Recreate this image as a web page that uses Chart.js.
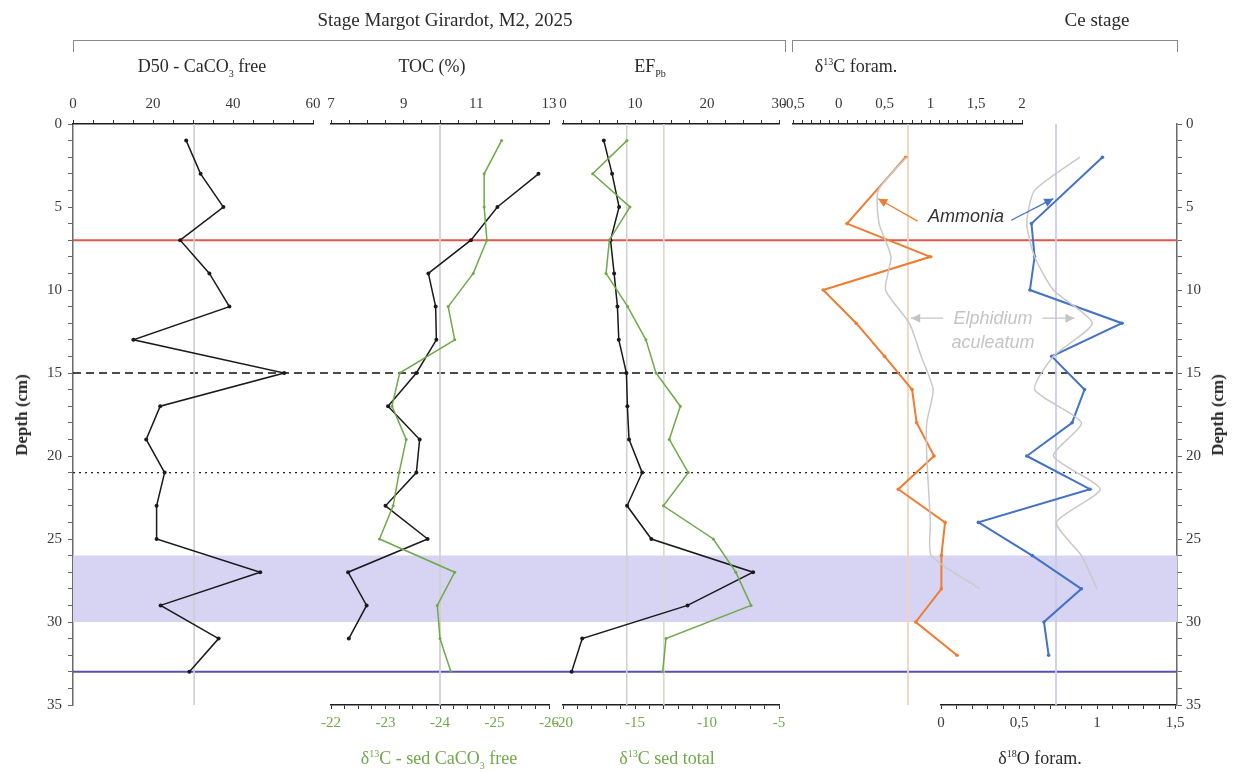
<!DOCTYPE html>
<html>
<head>
<meta charset="utf-8">
<script src="https://cdn.jsdelivr.net/npm/chart.js@4.4.1/dist/chart.umd.min.js"></script>
<style>
  body { margin: 0; background: #fff; }
  #fig { position: relative; width: 1235px; height: 773px; overflow: hidden;
         font-family: "Liberation Serif", "Times New Roman", serif; color: #2a2a2a; }
  #fig canvas { position: absolute; left: 0; top: 0; }
  .t { position: absolute; white-space: nowrap; transform: translate(-50%, -50%); font-size: 18px; line-height: 1; }
  .h { font-size: 19px; }
  .t sub, .t sup { font-size: 10px; line-height: 0; }
  .green { color: #6fa94a; }
  .br { position: absolute; top: 40px; height: 12px; border: 1.5px solid #8a8a8a; border-bottom: none; box-sizing: border-box; }
  .depth { position: absolute; font-weight: bold; font-size: 17px; white-space: nowrap;
           transform: translate(-50%, -50%) rotate(-90deg); }
  .ann { position: absolute; white-space: nowrap; transform: translate(-50%, -50%);
         font-family: "Liberation Sans", Arial, sans-serif; font-style: italic; font-size: 18px; line-height: 1; }
</style>
</head>
<body>
<div id="fig">
  <canvas id="cBase" width="1235" height="773"></canvas>
  <canvas id="cD50" width="1235" height="773"></canvas>
  <canvas id="cTOC" width="1235" height="773"></canvas>
  <canvas id="cEF" width="1235" height="773"></canvas>
  <canvas id="cC13" width="1235" height="773"></canvas>
  <canvas id="cO18" width="1235" height="773"></canvas>

  <div class="t h" style="left:445px;top:19px;">Stage Margot Girardot, M2, 2025</div>
  <div class="t h" style="left:1097px;top:19px;">Ce stage</div>
  <div class="br" style="left:73px;width:713px;"></div>
  <div class="br" style="left:792px;width:386px;"></div>

  <div class="t" style="left:202px;top:66px;">D50 - CaCO<sub>3</sub> free</div>
  <div class="t" style="left:432px;top:66px;">TOC (%)</div>
  <div class="t" style="left:650px;top:66px;">EF<sub>Pb</sub></div>
  <div class="t" style="left:856px;top:66px;">δ<sup>13</sup>C foram.</div>

  <div class="t green" style="left:439px;top:758px;">δ<sup>13</sup>C - sed CaCO<sub>3</sub> free</div>
  <div class="t green" style="left:667px;top:758px;">δ<sup>13</sup>C sed total</div>
  <div class="t" style="left:1040px;top:758px;">δ<sup>18</sup>O foram.</div>

  <div class="depth" style="left:22px;top:415px;">Depth (cm)</div>
  <div class="depth" style="left:1218px;top:415px;">Depth (cm)</div>

  <div class="ann" style="left:966px;top:216px;color:#333;">Ammonia</div>
  <div class="ann" style="left:993px;top:318px;color:#c4c4c4;">Elphidium</div>
  <div class="ann" style="left:993px;top:342px;color:#c4c4c4;">aculeatum</div>
</div>

<script>
// ---- data (depth in cm) ----
const depthD50 = [1, 3, 5, 7, 9, 11, 13, 15, 17, 19, 21, 23, 25, 27, 29, 31, 33];
const d50 = [28.3, 31.9, 37.6, 26.8, 34.1, 39.1, 15.1, 52.8, 21.8, 18.3, 22.9, 20.9, 20.9, 46.8, 21.9, 36.4, 29.1];

const depthTOC = [3, 5, 7, 9, 11, 13, 15, 17, 19, 21, 23, 25, 27, 29, 31];
const toc = [12.71, 11.58, 10.85, 9.68, 9.88, 9.9, 9.35, 8.57, 9.44, 9.35, 8.5, 9.66, 7.47, 7.98, 7.49];

const depthSed = [1, 3, 5, 7, 9, 11, 13, 15, 17, 19, 21, 23, 25, 27, 29, 31, 33];
const d13cSedCaCO3Free = [-25.13, -24.81, -24.81, -24.86, -24.61, -24.15, -24.27, -23.26, -23.12, -23.38, -23.25, -23.14, -22.89, -24.27, -23.95, -24.0, -24.2];

const depthEF = [1, 3, 5, 7, 9, 11, 13, 15, 17, 19, 21, 23, 25, 27, 29, 31, 33];
const efPb = [5.67, 6.82, 7.79, 6.6, 7.1, 7.56, 7.75, 8.81, 8.94, 9.17, 11.0, 8.9, 12.27, 26.4, 17.3, 2.67, 1.2];
const d13cSedTotal = [-15.56, -17.94, -15.35, -16.78, -17.01, -15.51, -14.24, -13.54, -11.85, -12.62, -11.3, -13.03, -9.56, -8.0, -6.94, -12.85, -13.08];

const depthAmmonia = [2, 6, 8, 10, 12, 14, 16, 18, 20, 22, 24, 26, 28, 30, 32];
const d13cAmmonia = [0.73, 0.09, 1.0, -0.17, 0.19, 0.5, 0.8, 0.85, 1.04, 0.65, 1.16, 1.12, 1.12, 0.84, 1.29];
const d18oAmmonia = [1.035, 0.58, 0.6, 0.57, 1.16, 0.71, 0.92, 0.84, 0.55, 0.955, 0.24, 0.585, 0.9, 0.66, 0.69];

const depthElphidium = [2, 4, 6, 8, 10, 12, 14, 16, 18, 20, 22, 24, 26, 28];
const d13cElphidium = [0.74, 0.43, 0.44, 0.57, 0.51, 0.77, 0.9, 1.03, 0.96, 0.96, 0.98, 1.0, 1.01, 1.54];
const d18oElphidium = [0.89, 0.6, 0.55, 0.6, 0.72, 0.97, 0.72, 0.6, 0.9, 0.72, 1.02, 0.74, 0.9, 1.0];

// average reference lines drawn in each panel
const avgD50 = 30.3, avgSedCaCO3Free = -24.0, avgEF = 8.85, avgSedTotal = -13.0;
const avgC13Ammonia = 0.755, avgO18Ammonia = 0.737;

// horizontal reference levels and the shaded interval (cm)
const levelRed = 7, levelDashed = 15, levelDotted = 21, levelBlue = 33;
const shadedInterval = [26, 30];

// ---- layout ----
const W = 1235, H = 773, AREA_TOP = 124, AREA_BOTTOM = 705;
const TOP_AXIS_H = 34, BOTTOM_AXIS_H = 34;
const SERIF = '"Liberation Serif", "Times New Roman", serif';
const GREEN = '#6fa94a', ORANGE = '#ed7d31', BLUE = '#4472c4', GREY_E = '#c9c9c9';

const profile = (depths, vals) => vals.map((v, i) => ({ x: v, y: depths[i] }));
const vline = (x, color, axis) => ({
  data: [{ x, y: 0 }, { x, y: 35 }], xAxisID: axis, yAxisID: 'y', showLine: true,
  borderColor: color, borderWidth: 1, pointRadius: 0, order: 10
});
const series = (depths, vals, color, axis, extra) => Object.assign({
  data: profile(depths, vals), xAxisID: axis, yAxisID: 'y', showLine: true,
  borderColor: color, backgroundColor: color, borderWidth: 1.5,
  pointRadius: 2, pointHoverRadius: 2, pointBorderWidth: 0, clip: false, order: 1
}, extra || {});

const fmt = v => String(Math.round(v * 100) / 100).replace('.', ',');

function axis(pos, a) {
  const near = (v, m) => Math.abs(v / m - Math.round(v / m)) < 1e-6;
  return {
    type: 'linear', position: pos, min: a.min, max: a.max, reverse: !!a.reverse,
    afterFit: s => { s.height = pos === 'top' ? TOP_AXIS_H : BOTTOM_AXIS_H; },
    afterBuildTicks: s => {
      const t = [];
      const n = Math.round((a.max - a.min) / a.step);
      for (let i = 0; i <= n; i++) t.push({ value: a.min + i * a.step });
      s.ticks = t;
    },
    grid: { drawOnChartArea: false, drawTicks: true, tickLength: 4, color: '#333', lineWidth: 1 },
    border: { display: true, color: '#1e1e1e', width: 1.5 },
    ticks: {
      autoSkip: false, maxRotation: 0, minRotation: 0, padding: pos === 'top' ? 7 : 5,
      color: a.color || '#3a3a3a', font: { family: SERIF, size: 15 },
      callback: v => near(v - (a.labelFrom !== undefined ? a.labelFrom : 0), a.label) ? fmt(v) : ''
    }
  };
}

function makeChart(id, cfg) {
  const scales = { y: { type: 'linear', min: 0, max: 35, reverse: true, display: false } };
  if (cfg.top) scales.xt = axis('top', cfg.top);
  if (cfg.bottom) scales.xb = axis('bottom', cfg.bottom);
  return new Chart(document.getElementById(id), {
    type: 'scatter',
    data: { datasets: cfg.datasets },
    options: {
      responsive: false, animation: false, devicePixelRatio: 1, events: [],
      layout: { padding: {
        left: cfg.left, right: W - cfg.right,
        top: cfg.top ? AREA_TOP - TOP_AXIS_H : AREA_TOP,
        bottom: cfg.bottom ? H - AREA_BOTTOM - BOTTOM_AXIS_H : H - AREA_BOTTOM
      } },
      plugins: { legend: { display: false }, tooltip: { enabled: false } },
      scales
    },
    plugins: cfg.plugins || []
  });
}

// ---- base: depth axes, reference levels, shaded interval ----
const depthAxis = (pos, width) => ({
  type: 'linear', position: pos, min: 0, max: 35, reverse: true,
  afterFit: s => { s.width = width; },
  afterBuildTicks: s => { s.ticks = Array.from({ length: 36 }, (_, i) => ({ value: i })); },
  grid: { drawOnChartArea: false, drawTicks: true, tickLength: 5, color: '#666' },
  border: { display: true, color: '#6a6a6a', width: 1.5 },
  ticks: { autoSkip: false, padding: pos === 'left' ? 6 : 4, color: '#3a3a3a',
           font: { family: SERIF, size: 15 }, callback: v => v % 5 === 0 ? String(v) : '' }
});
const hline = (y, color, width, dash) => ({
  data: [{ x: 0, y }, { x: 1, y }], showLine: true, borderColor: color, borderWidth: width,
  borderDash: dash || [], pointRadius: 0, yAxisID: 'y'
});
new Chart(document.getElementById('cBase'), {
  type: 'scatter',
  data: { datasets: [
    Object.assign(hline(shadedInterval[0], 'rgba(0,0,0,0)', 0), { fill: '+1', backgroundColor: '#d6d3f3' }),
    hline(shadedInterval[1], 'rgba(0,0,0,0)', 0),
    hline(levelRed, '#e2574b', 2),
    hline(levelDashed, '#111', 1.6, [8, 5]),
    hline(levelDotted, '#222', 1.3, [2, 4]),
    hline(levelBlue, '#5650b5', 2)
  ] },
  options: {
    responsive: false, animation: false, devicePixelRatio: 1, events: [],
    layout: { padding: { left: 0, right: 0, top: AREA_TOP, bottom: H - AREA_BOTTOM } },
    plugins: { legend: { display: false }, tooltip: { enabled: false } },
    scales: {
      x: { type: 'linear', min: 0, max: 1, display: false },
      y: depthAxis('left', 73),
      y2: depthAxis('right', W - 1177)
    }
  }
});

// ---- D50 ----
makeChart('cD50', {
  left: 73, right: 313,
  top: { min: 0, max: 60, step: 5, label: 20 },
  datasets: [
    vline(avgD50, '#cfcfcf', 'xt'),
    series(depthD50, d50, '#1a1a1a', 'xt')
  ]
});

// ---- TOC + d13C sed CaCO3 free ----
makeChart('cTOC', {
  left: 331, right: 549,
  top: { min: 7, max: 13, step: 0.5, label: 2, labelFrom: 7 },
  bottom: { min: -26, max: -22, step: 0.25, label: 1, reverse: true, color: GREEN },
  datasets: [
    vline(avgSedCaCO3Free, '#cfcfcf', 'xb'),
    series(depthSed, d13cSedCaCO3Free, GREEN, 'xb', { pointRadius: 1.5 }),
    series(depthTOC, toc, '#1a1a1a', 'xt')
  ]
});

// ---- EF Pb + d13C sed total ----
makeChart('cEF', {
  left: 563, right: 779,
  top: { min: 0, max: 30, step: 2.5, label: 10 },
  bottom: { min: -20, max: -5, step: 1, label: 5, color: GREEN },
  datasets: [
    vline(avgEF, '#d0d0d0', 'xt'),
    vline(avgSedTotal, '#d6dccd', 'xb'),
    series(depthEF, d13cSedTotal, GREEN, 'xb', { pointRadius: 1.5 }),
    series(depthEF, efPb, '#1a1a1a', 'xt')
  ]
});

// ---- d13C foraminifera ----
const chartC13 = makeChart('cC13', {
  left: 793, right: 1022,
  top: { min: -0.5, max: 2, step: 0.1, label: 0.5 },
  datasets: [
    vline(avgC13Ammonia, '#f3d2bd', 'xt'),
    series(depthElphidium, d13cElphidium, GREY_E, 'xt', { pointRadius: 0, tension: 0.2 }),
    series(depthAmmonia, d13cAmmonia, ORANGE, 'xt', { borderWidth: 2, pointRadius: 1.8 })
  ]
});

// ---- d18O foraminifera, with the species annotations ----
function arrow(ctx, x0, y0, x1, y1, color, w) {
  ctx.save();
  ctx.strokeStyle = color; ctx.fillStyle = color; ctx.lineWidth = w;
  ctx.beginPath(); ctx.moveTo(x0, y0); ctx.lineTo(x1, y1); ctx.stroke();
  const a = Math.atan2(y1 - y0, x1 - x0), L = 9, hw = 4.5;
  ctx.beginPath(); ctx.moveTo(x1, y1);
  ctx.lineTo(x1 - L * Math.cos(a) + hw * Math.sin(a), y1 - L * Math.sin(a) - hw * Math.cos(a));
  ctx.lineTo(x1 - L * Math.cos(a) - hw * Math.sin(a), y1 - L * Math.sin(a) + hw * Math.cos(a));
  ctx.closePath(); ctx.fill();
  ctx.restore();
}
const speciesArrows = {
  id: 'speciesArrows',
  afterDatasetsDraw(chart) {
    const ctx = chart.ctx, y = chart.scales.y, o = chart.scales.xb, c = chartC13.scales.xt;
    arrow(ctx, c.getPixelForValue(0.86), y.getPixelForValue(5.85), c.getPixelForValue(0.43), y.getPixelForValue(4.5), ORANGE, 1.3);
    arrow(ctx, o.getPixelForValue(0.45), y.getPixelForValue(5.8), o.getPixelForValue(0.72), y.getPixelForValue(4.5), BLUE, 1.3);
    arrow(ctx, c.getPixelForValue(1.14), y.getPixelForValue(11.7), c.getPixelForValue(0.79), y.getPixelForValue(11.7), '#c4c4c4', 1.3);
    arrow(ctx, o.getPixelForValue(0.65), y.getPixelForValue(11.7), o.getPixelForValue(0.855), y.getPixelForValue(11.7), '#c4c4c4', 1.3);
  }
};
makeChart('cO18', {
  left: 941, right: 1175,
  bottom: { min: 0, max: 1.5, step: 0.1, label: 0.5 },
  datasets: [
    vline(avgO18Ammonia, '#c5cde6', 'xb'),
    series(depthElphidium, d18oElphidium, GREY_E, 'xb', { pointRadius: 0, tension: 0.2 }),
    series(depthAmmonia, d18oAmmonia, BLUE, 'xb', { borderWidth: 2, pointRadius: 1.8 })
  ],
  plugins: [speciesArrows]
});
</script>
</body>
</html>
